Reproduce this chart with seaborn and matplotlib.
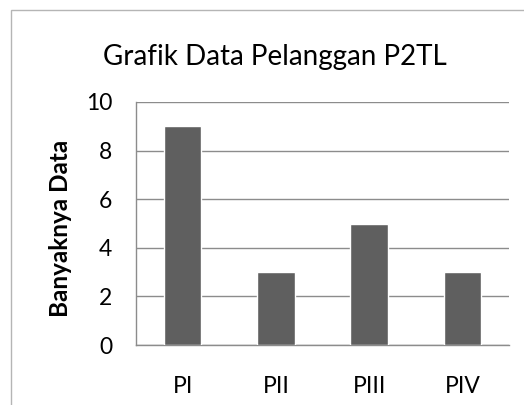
import matplotlib
matplotlib.use("Agg")
import matplotlib.pyplot as plt
import seaborn as sns
import pandas as pd
from matplotlib.patches import Rectangle

categories = ["PI", "PII", "PIII", "PIV"]
values = [9, 3, 5, 3]
yticks = [0, 2, 4, 6, 8, 10]

sns.set_theme(style="white")
plt.rcParams['font.family'] = ['Lato', 'DejaVu Sans']

W, H = 524, 405
fig = plt.figure(figsize=(W / 100, H / 100), dpi=100)
fig.patch.set_facecolor("white")

# outer chart frame (only left and top visible)
fig.patches.append(Rectangle((11 / W, -0.1), 1.2, 1 - 10 / H + 0.1,
                             transform=fig.transFigure, fill=False,
                             edgecolor="#b5b5b5", linewidth=1.0))

ax = fig.add_axes([136 / W, 1 - 345 / H, (509 - 136) / W, (345 - 102) / H])
df = pd.DataFrame({"cat": categories, "val": values})
sns.barplot(data=df, x="cat", y="val", color="#5f5f5f", width=0.4,
            saturation=1, ax=ax, zorder=3)

ax.set_ylim(0, 10)
ax.set_yticks(yticks)
ax.set_yticklabels([str(t) for t in yticks])
ax.yaxis.grid(True, color="#8c8c8c", linewidth=1.0, zorder=0)
ax.set_axisbelow(True)
for s in ["top", "right"]:
    ax.spines[s].set_visible(False)
for s in ["left", "bottom"]:
    ax.spines[s].set_color("#8c8c8c")
    ax.spines[s].set_linewidth(1.0)
ax.tick_params(axis="both", length=0, labelsize=16.5, colors="black")
ax.tick_params(axis="y", pad=17)
ax.tick_params(axis="x", pad=22)
ax.set_xlabel("")
ax.set_ylabel("")

fig.text(275 / W, 1 - 57 / H, "Grafik Data Pelanggan P2TL", ha="center",
         va="center", fontsize=20, color="black")
fig.text(61 / W, 1 - 228 / H, "Banyaknya Data", ha="center", va="center",
         rotation=90, fontsize=17.5, fontweight="bold", color="black")

fig.savefig("out.png", dpi=100, facecolor="white")
